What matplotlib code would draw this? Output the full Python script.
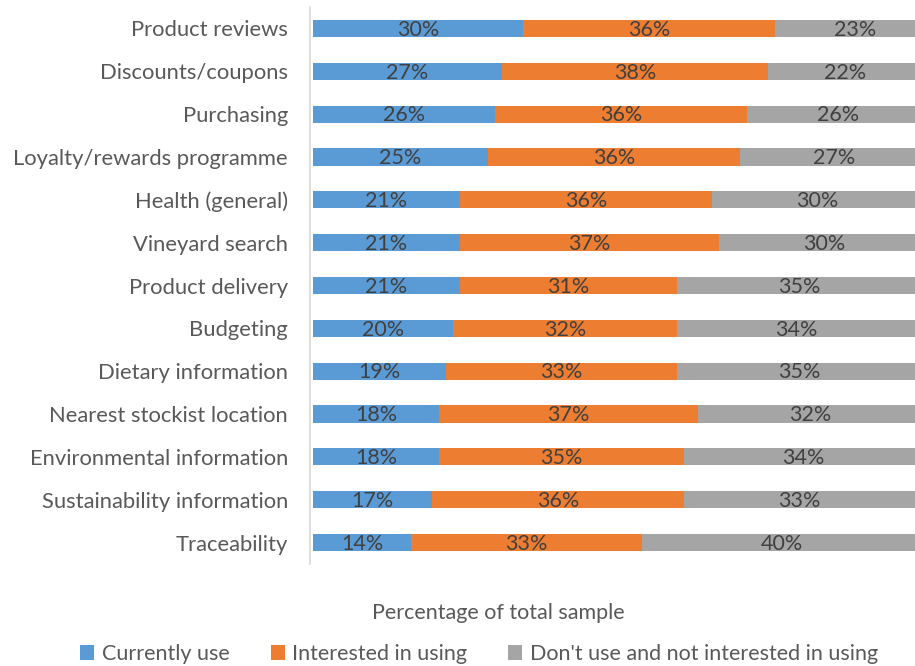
import matplotlib

matplotlib.use("Agg")
import matplotlib.pyplot as plt
import numpy as np

categories = [
    "Product reviews",
    "Discounts/coupons",
    "Purchasing",
    "Loyalty/rewards programme",
    "Health (general)",
    "Vineyard search",
    "Product delivery",
    "Budgeting",
    "Dietary information",
    "Nearest stockist location",
    "Environmental information",
    "Sustainability information",
    "Traceability",
]
currently_use = [30, 27, 26, 25, 21, 21, 21, 20, 19, 18, 18, 17, 14]
interested = [36, 38, 36, 36, 36, 37, 31, 32, 33, 37, 35, 36, 33]
not_interested = [23, 22, 26, 27, 30, 30, 35, 34, 35, 32, 34, 33, 40]

series = [
    ("Currently use", currently_use, "#5B9BD5"),
    ("Interested in using", interested, "#ED7D31"),
    ("Don't use and not interested in using", not_interested, "#A5A5A5"),
]

plt.rcParams["font.family"] = ["Lato", "DejaVu Sans"]

fig = plt.figure(figsize=(9.15, 6.66), dpi=100)
ax = fig.add_axes([313 / 915, 1 - 564 / 666, 602 / 915, 557 / 666])

y = np.arange(len(categories))
left = np.zeros(len(categories))
for name, vals, color in series:
    vals = np.array(vals, dtype=float)
    ax.barh(y, vals, left=left, height=0.4, color=color, label=name)
    for yi, l, v in zip(y, left, vals):
        ax.text(l + v / 2, yi + 0.03, f"{v:.0f}%", ha="center", va="center",
                fontsize=15.5, color="#404040", clip_on=True)
    left += vals

# bars run past the right edge, as in the source chart
ax.set_xlim(0, 86)
ax.set_ylim(len(categories) - 0.5, -0.5)
ax.set_yticks(y)
ax.set_yticklabels(categories)
ax.tick_params(axis="y", length=0, pad=16, labelsize=15.8, labelcolor="#595959")
ax.set_xticks([])
for side in ("top", "right", "bottom"):
    ax.spines[side].set_visible(False)
ax.spines["left"].set_color("#D9D9D9")
ax.spines["left"].set_linewidth(1.2)
ax.spines["left"].set_position(("outward", 2))

fig.text(498 / 915, 1 - 613 / 666, "Percentage of total sample",
         ha="center", va="center", fontsize=15.5, color="#595959")
fig.legend(loc="center", bbox_to_anchor=(479 / 915, 1 - 654 / 666), ncol=3,
           frameon=False, fontsize=15.5, labelcolor="#595959",
           handlelength=0.65, handleheight=0.65, handletextpad=0.35,
           columnspacing=1.9)

fig.savefig("out.png", dpi=100)
